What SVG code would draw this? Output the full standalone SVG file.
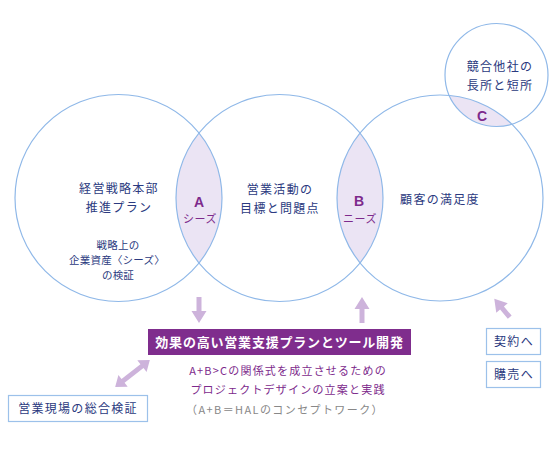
<svg xmlns="http://www.w3.org/2000/svg" width="560" height="450" viewBox="0 0 560 450">
<style>
text{font-family:"Noto Sans CJK JP","Noto Sans",sans-serif;}
.c{fill:none;stroke:#8fb8e8;stroke-width:1.2;}
.lens{fill:#ebe4f4;}
.t{fill:#2b3a80;font-size:12px;letter-spacing:1.3px;text-anchor:middle;}
.s{fill:#2b3a80;font-size:10.5px;letter-spacing:0.2px;text-anchor:middle;}
.L{fill:#7d2a8c;font-size:14px;font-weight:bold;text-anchor:middle;font-family:"Liberation Sans",sans-serif;}
.l{fill:#7d2a8c;font-size:11px;text-anchor:middle;letter-spacing:0.5px;}
.p{fill:#7d2a8c;font-size:11px;text-anchor:middle;letter-spacing:1.2px;}
.g{fill:#888;font-size:11px;text-anchor:middle;letter-spacing:1.4px;}
.box{fill:#fff;stroke:#9cc1ea;stroke-width:1.2;}
.arr{fill:#cdb3db;}
</style>
<defs>
<clipPath id="c1"><circle cx="118.5" cy="198" r="103.5"/></clipPath>
<clipPath id="c3"><circle cx="440" cy="198" r="103"/></clipPath>
</defs>
<g id="lenses">
<circle class="lens" cx="279.5" cy="198" r="103.5" clip-path="url(#c1)"/>
<circle class="lens" cx="279.5" cy="198" r="103.5" clip-path="url(#c3)"/>
<circle class="lens" cx="496.5" cy="75" r="51.5" clip-path="url(#c3)"/>
</g>
<g id="circle1">
<circle class="c" cx="118.5" cy="198" r="103.5"/>
<text class="t" x="119" y="193">経営戦略本部</text>
<text class="t" x="119" y="212">推進プラン</text>
<text class="s" x="118" y="249">戦略上の</text>
<text class="s" x="117" y="264">企業資産〈シーズ〉</text>
<text class="s" x="118" y="279">の検証</text>
</g>
<g id="circle2">
<circle class="c" cx="279.5" cy="198" r="103.5"/>
<text class="t" x="280" y="194">営業活動の</text>
<text class="t" x="280" y="213">目標と問題点</text>
</g>
<g id="circle3">
<circle class="c" cx="440" cy="198" r="103"/>
<text class="t" x="440" y="204">顧客の満足度</text>
</g>
<g id="circle4">
<circle class="c" cx="496.5" cy="75" r="51.5"/>
<text class="t" x="500" y="71">競合他社の</text>
<text class="t" x="500" y="90">長所と短所</text>
</g>
<g id="labelA">
<text class="L" x="199" y="207">A</text>
<text class="l" x="200" y="223">シーズ</text>
</g>
<g id="labelB">
<text class="L" x="359" y="206">B</text>
<text class="l" x="360" y="223">ニーズ</text>
</g>
<g id="labelC">
<text class="L" x="482" y="121">C</text>
</g>
<g id="connectors">
<path class="arr" d="M196.5,297 h5 v14 h5 l-7.5,12 l-7.5,-12 h5 z"/>
<path class="arr" d="M359.5,323 h5 v-14 h5 l-7.5,-12 l-7.5,12 h5 z"/>
<g transform="translate(132.5,373.5) rotate(-38)">
<path class="arr" d="M-22,0 l10,-7.5 v5 h24 v-5 l10,7.5 l-10,7.5 v-5 h-24 v5 z"/>
</g>
<g transform="translate(502,308) rotate(-130)">
<path class="arr" d="M-12,-2.5 h12 v-5 l12,7.5 l-12,7.5 v-5 h-12 z"/>
</g>
</g>
<g id="main">
<rect x="148" y="329" width="263" height="26" fill="#7f2d8d"/>
<text x="279.5" y="347" fill="#fff" font-size="13" font-weight="bold" text-anchor="middle" letter-spacing="0.8">効果の高い営業支援プランとツール開発</text>
<text class="p" x="288" y="375">A+B&gt;Cの関係式を成立させるための</text>
<text class="p" x="288" y="394">プロジェクトデザインの立案と実践</text>
<text class="g" x="285" y="414">（A+B＝HALのコンセプトワーク）</text>
</g>
<g id="field">
<rect class="box" x="8.5" y="395.5" width="139" height="26"/>
<text class="t" x="78" y="412.5">営業現場の総合検証</text>
</g>
<g id="contract">
<rect class="box" x="486.5" y="328.5" width="54" height="26"/>
<text class="t" x="514" y="346">契約へ</text>
</g>
<g id="purchase">
<rect class="box" x="486.5" y="361.5" width="54" height="26"/>
<text class="t" x="514" y="379">購売へ</text>
</g>
</svg>
